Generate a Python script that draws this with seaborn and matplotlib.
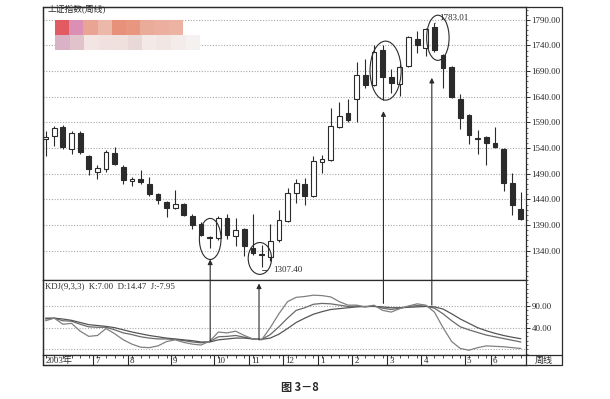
import matplotlib
matplotlib.use("Agg")
import matplotlib.pyplot as plt
from matplotlib.patches import Ellipse, Rectangle
from matplotlib.ticker import MultipleLocator
import numpy as np
import pandas as pd
import seaborn as sns

# weekly candles, Shanghai Composite, mid 2003 - mid 2004
opens = [1558, 1564, 1582, 1538, 1570, 1525, 1494, 1500, 1530, 1503,
         1476, 1479, 1471, 1450, 1435, 1424, 1431, 1407, 1392, 1367,
         1365, 1404, 1369, 1382, 1346, 1333, 1327, 1361, 1398, 1452,
         1470, 1446, 1512, 1517, 1581, 1609, 1635, 1683, 1663, 1731,
         1679, 1665, 1700, 1753, 1736, 1776, 1721, 1699, 1636, 1604,
         1558, 1562, 1550, 1539, 1472, 1422]
closes = [1561, 1579, 1542, 1570, 1532, 1499, 1502, 1532, 1509, 1478,
          1479, 1474, 1450, 1439, 1424, 1432, 1409, 1390, 1371, 1365,
          1403, 1371, 1380, 1350, 1336, 1331, 1359, 1399, 1452, 1473,
          1447, 1515, 1519, 1583, 1603, 1594, 1683, 1663, 1728, 1679,
          1666, 1698, 1756, 1741, 1772, 1731, 1697, 1639, 1598, 1565,
          1560, 1550, 1542, 1473, 1429, 1402]
highs = [1574, 1584, 1585, 1573, 1573, 1527, 1507, 1537, 1542, 1508,
         1483, 1498, 1483, 1452, 1437, 1458, 1434, 1412, 1397, 1368,
         1407, 1412, 1404, 1384, 1411, 1351, 1393, 1420, 1462, 1480,
         1482, 1525, 1526, 1619, 1630, 1636, 1707, 1714, 1741, 1741,
         1695, 1703, 1758, 1768, 1775, 1783.01, 1723, 1701, 1646, 1606,
         1575, 1564, 1581, 1540, 1492, 1455]
lows = [1525, 1545, 1539, 1528, 1529, 1487, 1479, 1493, 1507, 1470,
        1466, 1470, 1447, 1432, 1406, 1422, 1407, 1383, 1368, 1345,
        1361, 1362, 1350, 1330, 1331, 1307.40, 1320, 1357, 1396, 1433,
        1429, 1444, 1492, 1515, 1579, 1591, 1591, 1657, 1661, 1634,
        1647, 1641, 1699, 1726, 1720, 1727, 1658, 1637, 1578, 1549,
        1529, 1507, 1540, 1456, 1410, 1400]

# KDJ(9,3,3)
k_vals = [60, 62, 56, 55, 48, 42, 41, 41, 35, 28,
          24, 19, 16, 14, 14, 13, 10, 7, 5, 8,
          19, 20, 22, 18, 14, 13, 24, 42, 62, 80,
          86, 94, 96, 95, 92, 89, 90, 88, 90, 85,
          82, 85, 89, 91, 90, 85, 72, 56, 42, 35,
          29, 23, 19, 15, 11, 7.00]
d_vals = [62, 62, 60, 57, 52, 47, 45, 43, 40, 35,
          30, 26, 22, 19, 16, 14, 12, 10, 7, 7,
          12, 14, 16, 16, 14, 13, 16, 25, 38, 52,
          62, 71, 77, 82, 84, 86, 88, 89, 89, 88,
          86, 86, 87, 88, 89, 88, 83, 72, 60, 50,
          40, 33, 27, 22, 18, 14.47]
j_vals = [56, 62, 48, 50, 32, 20, 22, 38, 26, 12,
          2, -5, -6, -2, 8, 12, 6, 2, 0, 9,
          30, 28, 32, 22, 14, 12, 40, 72, 100, 110,
          112, 115, 114, 111, 100, 92, 92, 88, 92, 80,
          76, 84, 90, 95, 92, 76, 40, 8, -8, -12,
          -6, -2, -3, -4, -6, -7.95]

price_ticks = [1340, 1390, 1440, 1490, 1540, 1590, 1640, 1690, 1740, 1790]
kdj_ticks = [90, 40]
kdj_grid = [90, 40, -10]
month_pos = [5.5, 9.5, 14.5, 19.5, 23.5, 27.5, 31.5, 35.5, 39.5, 43.5, 48.5, 51.5]
month_labels = ['7', '8', '9', '10', '11', '12', '1', '2', '3', '4', '5', '6']

sns.set_theme(style="white")
plt.rcParams['font.family'] = ['Liberation Serif', 'Noto Sans CJK SC']
INK = '#2b2b2b'
GRID = '#a8a8a8'

W, H = 610, 399
fig = plt.figure(figsize=(W / 100, H / 100), dpi=100)
fig.patch.set_facecolor('white')


def px_rect(x0, y0, x1, y1):
    return [x0 / W, 1 - y1 / H, (x1 - x0) / W, (y1 - y0) / H]


def fx(x):
    return x / W


def fy(y):
    return 1 - y / H


ax = fig.add_axes(px_rect(43, 7, 526, 280))
axk = fig.add_axes(px_rect(43, 280, 526, 355), sharex=ax)
axd = fig.add_axes(px_rect(43, 355, 526, 365), sharex=ax)

df = pd.DataFrame({'open': opens, 'close': closes, 'high': highs, 'low': lows})
df['idx'] = np.arange(len(df))
up = df['close'] >= df['open']
body = (df['close'] - df['open']).abs().clip(lower=2.5)
bottom = df[['open', 'close']].min(axis=1)

# --- price panel
for g in price_ticks:
    ax.axhline(g, color=GRID, lw=0.8, ls=(0, (1, 1.5)), zorder=0)
ax.vlines(df['idx'], df['low'], df['high'], color=INK, lw=0.8, zorder=2)
ax.bar(df['idx'][up], body[up], bottom=bottom[up], width=0.55,
       facecolor='white', edgecolor=INK, lw=0.8, zorder=3)
ax.bar(df['idx'][~up], body[~up], bottom=bottom[~up], width=0.55,
       facecolor=INK, edgecolor=INK, lw=0.8, zorder=3)
ax.set_xlim(-0.3, 55.6)
ax.set_ylim(1283, 1815)
ax.yaxis.tick_right()
ax.set_yticks(price_ticks)
ax.set_yticklabels([f'{v:.2f}' for v in price_ticks], fontsize=6.5, color=INK)
ax.yaxis.set_minor_locator(MultipleLocator(10))
ax.tick_params(axis='y', which='major', right=True, length=3, width=0.7, color=INK, pad=1)
ax.tick_params(axis='y', which='minor', right=True, length=1.5, width=0.5, color=INK)
ax.tick_params(axis='x', bottom=False, labelbottom=False)
for s in ax.spines.values():
    s.set_color(INK)
    s.set_linewidth(0.9)

# circled candles
ax.add_patch(Ellipse((19.05, 1363), 2.5, 80, fill=False, ec=INK, lw=0.8, zorder=4))
ax.add_patch(Ellipse((24.8, 1325), 2.7, 62, fill=False, ec=INK, lw=0.8, zorder=4))
ax.add_patch(Ellipse((39.35, 1691), 3.6, 115, fill=False, ec=INK, lw=0.8, zorder=4))
ax.add_patch(Ellipse((45.4, 1755), 2.6, 88, fill=False, ec=INK, lw=0.8, zorder=4))

low_i = int(np.argmin(lows))
high_i = int(np.argmax(highs))
ax.annotate(f'{lows[low_i]:.2f}', xy=(low_i, lows[low_i]), xytext=(low_i + 1.3, 1302),
            fontsize=6.5, color=INK, va='center', ha='left',
            arrowprops=dict(arrowstyle='-', color=INK, lw=0.6,
                            connectionstyle='angle,angleA=0,angleB=90,rad=0'))
ax.annotate(f'{highs[high_i]:.2f}', xy=(high_i, highs[high_i]), xytext=(high_i + 0.5, 1793),
            fontsize=6.5, color=INK, va='center', ha='left',
            arrowprops=dict(arrowstyle='-', color=INK, lw=0.6))

# --- KDJ panel
kdj = pd.DataFrame({'idx': np.arange(len(k_vals)), 'K': k_vals, 'D': d_vals, 'J': j_vals})
kdj_long = kdj.melt(id_vars='idx', var_name='line', value_name='value')
for g in kdj_grid:
    axk.axhline(g, color=GRID, lw=0.8, ls=(0, (1, 1.5)), zorder=0)
sns.lineplot(data=kdj_long, x='idx', y='value', hue='line',
             palette={'K': '#6a6a6a', 'D': '#555555', 'J': '#808080'},
             lw=0.9, legend=False, ax=axk)
axk.set_ylim(-23, 150)
axk.set_xlabel('')
axk.set_ylabel('')
axk.yaxis.tick_right()
axk.set_yticks(kdj_ticks)
axk.set_yticklabels([f'{v:.2f}' for v in kdj_ticks], fontsize=6.5, color=INK)
axk.yaxis.set_minor_locator(MultipleLocator(10))
axk.tick_params(axis='y', which='major', right=True, length=3, width=0.7, color=INK, pad=1)
axk.tick_params(axis='y', which='minor', right=True, length=1.5, width=0.5, color=INK)
axk.tick_params(axis='x', bottom=False, labelbottom=False)
for s in axk.spines.values():
    s.set_color(INK)
    s.set_linewidth(0.9)
axk.text(0.004, 0.97, f'KDJ(9,3,3)  K:{k_vals[-1]:.2f}  D:{d_vals[-1]:.2f}  J:{j_vals[-1]:.2f}',
         transform=axk.transAxes, fontsize=6.3, color=INK, va='top', ha='left')

# arrows from the KDJ lines up to the circled candles
arrow_kw = dict(arrowstyle='-|>', color=INK, lw=0.8, mutation_scale=7, shrinkA=0, shrinkB=0)
for xi, tip, base in [(19.05, 1323, 9), (39.1, 1612, 96), (44.7, 1677, 92)]:
    axk.annotate('', xy=(xi, tip), xycoords=ax.transData, xytext=(xi, base),
                 textcoords=axk.transData, arrowprops=arrow_kw, annotation_clip=False)
axk.annotate('', xy=(24.7, 142), xytext=(24.7, 12), arrowprops=arrow_kw)

# --- date strip
axd.set_ylim(0, 1)
axd.set_yticks([])
axd.set_xticks(np.arange(len(df)), minor=True)
axd.set_xticks([])
axd.tick_params(axis='x', which='minor', top=True, bottom=False, direction='in',
                length=2, width=0.6, color=INK)
axd.vlines(month_pos, 0, 1, color=INK, lw=0.8)
for p, lab in zip(month_pos, month_labels):
    axd.text(p + 0.25, 0.42, lab, fontsize=6.5, color=INK, va='center', ha='left')
axd.text(0.0, 0.42, '2003年', fontsize=6.5, color=INK, va='center', ha='left')
for s in axd.spines.values():
    s.set_color(INK)
    s.set_linewidth(0.9)

# outer frame and right-hand label column
fig.patches.append(Rectangle((fx(43), fy(365)), fx(562 - 43), (365 - 7) / H, transform=fig.transFigure,
                             fill=False, ec=INK, lw=0.9))
fig.lines.append(plt.Line2D([fx(526), fx(562)], [fy(355), fy(355)], transform=fig.transFigure,
                            color=INK, lw=0.9))
fig.text(fx(544), fy(360.5), '周线', fontsize=6.5, color=INK, ha='center', va='center')

# title and the blurred block under it
fig.text(fx(47), fy(9.5), '上证指数(周线)', fontsize=6.3, color=INK, ha='left', va='center')
row1 = ['#e25a62', '#dc8fb4', '#e9a493', '#ecb8aa', '#e8917a', '#e8967f', '#ebab99', '#ecaf9f', '#ecb3a3']
row2 = ['#d9b2c6', '#e0c3cb', '#f3e5e3', '#f0e0de', '#efe0de', '#e8d8d6', '#f3e9e7', '#f2e6e4', '#f4ecea', '#f5f1f0']
for n, c in enumerate(row1):
    fig.patches.append(Rectangle((fx(55 + n * 14.2), fy(35)), fx(14.2), 15 / H,
                                 transform=fig.transFigure, fc=c, ec='none'))
for n, c in enumerate(row2):
    fig.patches.append(Rectangle((fx(55 + n * 14.5), fy(50)), fx(14.5), 15 / H,
                                 transform=fig.transFigure, fc=c, ec='none'))

fig.text(fx(300), fy(387), '图 3－8', fontsize=8, fontweight='bold', color=INK,
         ha='center', va='center', family=['Noto Sans CJK SC', 'DejaVu Sans'])

fig.savefig('out.png', dpi=100)
